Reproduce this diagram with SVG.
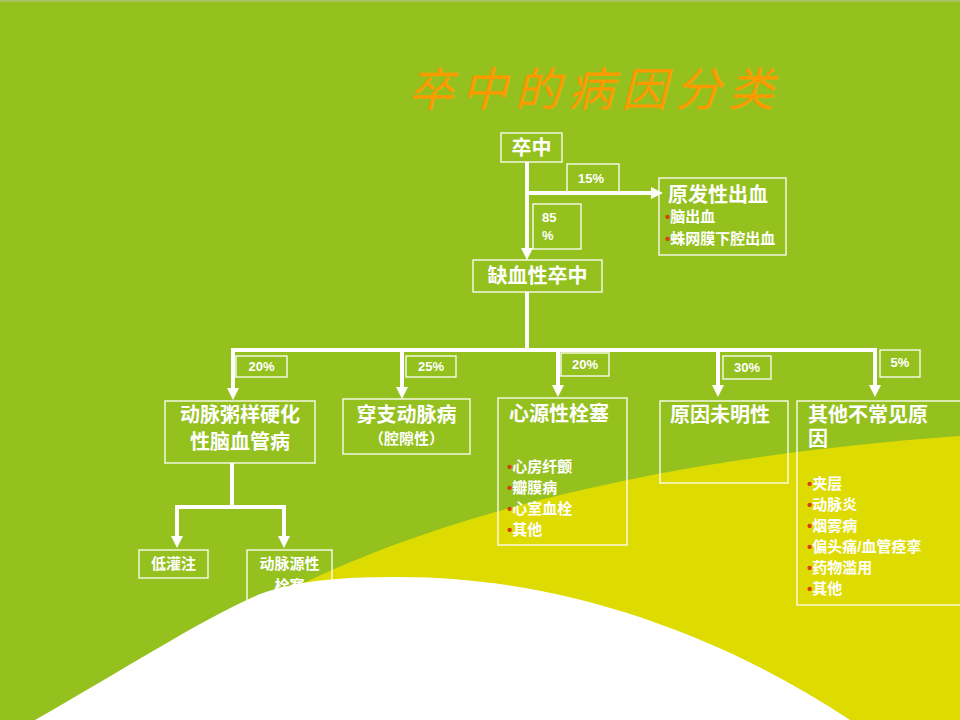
<svg xmlns="http://www.w3.org/2000/svg" width="960" height="720" viewBox="0 0 960 720">
<defs>
<marker id="arr" viewBox="0 0 12 12" refX="2" refY="6" markerWidth="12" markerHeight="12" markerUnits="userSpaceOnUse" orient="auto">
<path d="M0,0 L12,6 L0,12 Z" fill="#FFFFFF"/>
</marker>
<style>
.box{fill:none;stroke:#FFFFFF;stroke-width:1.3}
.t{font-family:"Liberation Sans","Noto Sans CJK SC",sans-serif;fill:#FFFFFF;font-weight:bold}
.h{font-size:20px}
.s{font-size:15px}
.p{font-size:13px}
.b{fill:#D8400C}
.c{fill:none;stroke:#FFFFFF;stroke-width:4}
</style>
</defs>
<rect x="0" y="0" width="960" height="720" fill="#95C11F"/>
<rect x="0" y="0" width="960" height="2" fill="#A8C262"/>
<path d="M270 600 C420 520 650 458 960 436 L960 720 L270 720 Z" fill="#DEDB00"/>
<path d="M35 720 C120 672 200 620 260 594 C300 580 340 577 400 577 C570 577 730 640 850 720 Z" fill="#FFFFFF"/>

<text x="408" y="106" font-family="'Noto Sans CJK SC',sans-serif" font-size="46" font-style="italic" font-weight="400" fill="#FF9900" textLength="366" lengthAdjust="spacing">卒中的病因分类</text>

<g id="connectors">
<path class="c" d="M527 162 V250" marker-end="url(#arr)"/>
<path class="c" d="M527 193 H653" marker-end="url(#arr)"/>
<path class="c" d="M527 292 V350"/>
<path class="c" d="M233 350 H875" stroke-linecap="square"/>
<path class="c" d="M233 350 V390" marker-end="url(#arr)"/>
<path class="c" d="M402 350 V389" marker-end="url(#arr)"/>
<path class="c" d="M558 350 V387" marker-end="url(#arr)"/>
<path class="c" d="M718 350 V387" marker-end="url(#arr)"/>
<path class="c" d="M875 350 V387" marker-end="url(#arr)"/>
<path class="c" d="M232 463 V507"/>
<path class="c" d="M177 507 H284" stroke-linecap="square"/>
<path class="c" d="M177 507 V538" marker-end="url(#arr)"/>
<path class="c" d="M284 507 V538" marker-end="url(#arr)"/>
</g>

<g id="stroke-root">
<rect class="box" x="501" y="133" width="61" height="29"/>
<text class="t h" x="531.5" y="155" text-anchor="middle">卒中</text>
</g>
<g id="pct15">
<rect class="box" x="567" y="164" width="52" height="28"/>
<text class="t p" x="578" y="183">15%</text>
</g>
<g id="pct85">
<rect class="box" x="533" y="204" width="48" height="45"/>
<text class="t p" x="542" y="222">85</text>
<text class="t p" x="542" y="240">%</text>
</g>
<g id="hemorrhage">
<rect class="box" x="659" y="178" width="127" height="77"/>
<text class="t h" x="668" y="202">原发性出血</text>
<text class="t s" x="665" y="222"><tspan class="b">•</tspan>脑出血</text>
<text class="t s" x="665" y="244"><tspan class="b">•</tspan>蛛网膜下腔出血</text>
</g>
<g id="ischemic">
<rect class="box" x="473" y="260" width="129" height="32"/>
<text class="t h" x="537.5" y="283" text-anchor="middle">缺血性卒中</text>
</g>
<g id="pct20a">
<rect class="box" x="236" y="356" width="51" height="21"/>
<text class="t p" x="261.5" y="371" text-anchor="middle">20%</text>
</g>
<g id="pct25">
<rect class="box" x="406" y="356" width="50" height="21"/>
<text class="t p" x="431" y="371" text-anchor="middle">25%</text>
</g>
<g id="pct20b">
<rect class="box" x="561" y="353" width="48" height="23"/>
<text class="t p" x="585" y="369" text-anchor="middle">20%</text>
</g>
<g id="pct30">
<rect class="box" x="723" y="356" width="48" height="23"/>
<text class="t p" x="747" y="372" text-anchor="middle">30%</text>
</g>
<g id="pct5">
<rect class="box" x="880" y="350" width="40" height="27"/>
<text class="t p" x="900" y="367" text-anchor="middle">5%</text>
</g>
<g id="atherosclerosis">
<rect class="box" x="165" y="401" width="150" height="62"/>
<text class="t h" x="240" y="422" text-anchor="middle">动脉粥样硬化</text>
<text class="t h" x="240" y="449" text-anchor="middle">性脑血管病</text>
</g>
<g id="perforating">
<rect class="box" x="343" y="399" width="127" height="55"/>
<text class="t h" x="406.5" y="422" text-anchor="middle">穿支动脉病</text>
<text class="t s" x="406.5" y="444" text-anchor="middle">（腔隙性）</text>
</g>
<g id="cardioembolic">
<rect class="box" x="498" y="398" width="129" height="147"/>
<text class="t h" x="509" y="421">心源性栓塞</text>
<text class="t s" x="507" y="472"><tspan class="b">•</tspan>心房纤颤</text>
<text class="t s" x="507" y="493"><tspan class="b">•</tspan>瓣膜病</text>
<text class="t s" x="507" y="514"><tspan class="b">•</tspan>心室血栓</text>
<text class="t s" x="507" y="535"><tspan class="b">•</tspan>其他</text>
</g>
<g id="undetermined">
<rect class="box" x="660" y="401" width="128" height="82"/>
<text class="t h" x="670" y="422">原因未明性</text>
</g>
<g id="other">
<rect class="box" x="797" y="401" width="170" height="204"/>
<text class="t h" x="808" y="422">其他不常见原</text>
<text class="t h" x="808" y="446">因</text>
<text class="t s" x="807" y="489"><tspan class="b">•</tspan>夹层</text>
<text class="t s" x="807" y="510"><tspan class="b">•</tspan>动脉炎</text>
<text class="t s" x="807" y="531"><tspan class="b">•</tspan>烟雾病</text>
<text class="t s" x="807" y="552"><tspan class="b">•</tspan>偏头痛/血管痉挛</text>
<text class="t s" x="807" y="573"><tspan class="b">•</tspan>药物滥用</text>
<text class="t s" x="807" y="594"><tspan class="b">•</tspan>其他</text>
</g>
<g id="hypoperfusion">
<rect class="box" x="139" y="550" width="69" height="28"/>
<text class="t s" x="173.5" y="569" text-anchor="middle">低灌注</text>
</g>
<g id="artery-embolism">
<rect class="box" x="247" y="550" width="85" height="56"/>
<text class="t s" x="289.5" y="569" text-anchor="middle">动脉源性</text>
<text class="t s" x="289.5" y="591" text-anchor="middle">栓塞</text>
</g>
</svg>
